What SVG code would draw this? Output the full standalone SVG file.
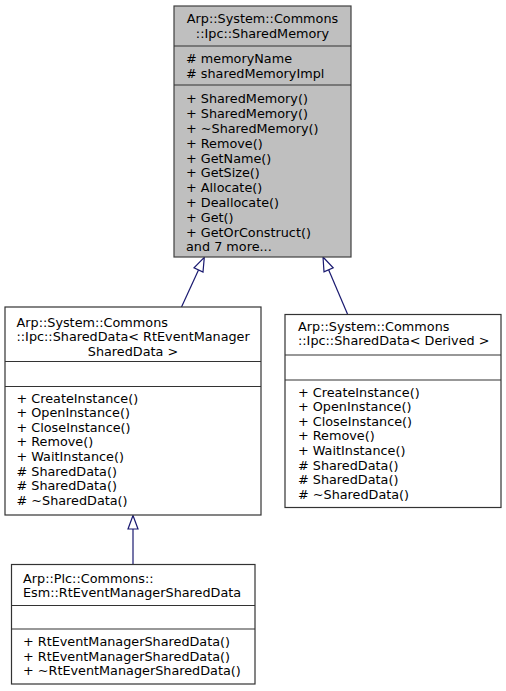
<svg xmlns="http://www.w3.org/2000/svg" width="506" height="691" viewBox="0 0 506 691">
<style>
  text { font-family: "DejaVu Sans", "Noto Sans", sans-serif; font-size: 12.8px; fill: #000; }
  .c { text-anchor: middle; }
  .box { fill: #fff; stroke: #333; stroke-width: 1.2; }
  .root { fill: #bfbfbf; stroke: #404040; stroke-width: 1.2; }
  .div { stroke: #333; stroke-width: 1.2; }
  .edge { stroke: #191970; stroke-width: 1.2; fill: none; }
  .head { fill: #fff; stroke: #191970; stroke-width: 1.2; }
</style>
<g id="edges">
  <path class="edge" d="M181.5,307 L198.5,270"/>
  <polygon class="head" points="204.3,257.3 194,267.9 203,272.1"/>
  <path class="edge" d="M347.7,314.5 L328.6,269.8"/>
  <polygon class="head" points="323,257 333.2,267.8 324,271.8"/>
  <path class="edge" d="M133,564.5 L133,529"/>
  <polygon class="head" points="133,515.5 128,529 138,529"/>
</g>
<g id="node-sharedmemory">
  <rect class="root" x="174" y="6" width="177" height="251"/>
  <line class="div" x1="174" y1="46" x2="351" y2="46"/>
  <line class="div" x1="174" y1="85" x2="351" y2="85"/>
  <text class="c" x="262.5" y="22.5">Arp::System::Commons</text>
  <text class="c" x="262.5" y="37.5">::Ipc::SharedMemory</text>
  <text x="186" y="62.5"># memoryName</text>
  <text x="186" y="77.5"># sharedMemoryImpl</text>
  <text x="186" y="103.3">+ SharedMemory()</text>
  <text x="186" y="118.1">+ SharedMemory()</text>
  <text x="186" y="132.9">+ ~SharedMemory()</text>
  <text x="186" y="147.7">+ Remove()</text>
  <text x="186" y="162.5">+ GetName()</text>
  <text x="186" y="177.3">+ GetSize()</text>
  <text x="186" y="192.1">+ Allocate()</text>
  <text x="186" y="206.9">+ Deallocate()</text>
  <text x="186" y="221.7">+ Get()</text>
  <text x="186" y="236.5">+ GetOrConstruct()</text>
  <text x="186" y="251.3">and 7 more...</text>
</g>
<g id="node-shareddata-rtevent">
  <rect class="box" x="5" y="307" width="256" height="208"/>
  <line class="div" x1="5" y1="361.5" x2="261" y2="361.5"/>
  <line class="div" x1="5" y1="386.5" x2="261" y2="386.5"/>
  <text x="16.5" y="326.5">Arp::System::Commons</text>
  <text x="16.5" y="341.3">::Ipc::SharedData&lt; RtEventManager</text>
  <text class="c" x="133" y="356.1">SharedData &gt;</text>
  <text x="16.5" y="402.5">+ CreateInstance()</text>
  <text x="16.5" y="417.1">+ OpenInstance()</text>
  <text x="16.5" y="431.7">+ CloseInstance()</text>
  <text x="16.5" y="446.3">+ Remove()</text>
  <text x="16.5" y="460.9">+ WaitInstance()</text>
  <text x="16.5" y="475.5"># SharedData()</text>
  <text x="16.5" y="490.1"># SharedData()</text>
  <text x="16.5" y="504.7"># ~SharedData()</text>
</g>
<g id="node-shareddata-derived">
  <rect class="box" x="285" y="314.5" width="216" height="193"/>
  <line class="div" x1="285" y1="355" x2="501" y2="355"/>
  <line class="div" x1="285" y1="380" x2="501" y2="380"/>
  <text x="298" y="330.5">Arp::System::Commons</text>
  <text x="298" y="345.1">::Ipc::SharedData&lt; Derived &gt;</text>
  <text x="298" y="396.5">+ CreateInstance()</text>
  <text x="298" y="411.1">+ OpenInstance()</text>
  <text x="298" y="425.7">+ CloseInstance()</text>
  <text x="298" y="440.3">+ Remove()</text>
  <text x="298" y="454.9">+ WaitInstance()</text>
  <text x="298" y="469.5"># SharedData()</text>
  <text x="298" y="484.1"># SharedData()</text>
  <text x="298" y="498.7"># ~SharedData()</text>
</g>
<g id="node-rteventmanagershareddata">
  <rect class="box" x="11.5" y="564.5" width="243.5" height="119.5"/>
  <line class="div" x1="11.5" y1="605.5" x2="255" y2="605.5"/>
  <line class="div" x1="11.5" y1="629" x2="255" y2="629"/>
  <text x="23" y="582.5">Arp::Plc::Commons::</text>
  <text x="23" y="597.1">Esm::RtEventManagerSharedData</text>
  <text x="23" y="646">+ RtEventManagerSharedData()</text>
  <text x="23" y="660.6">+ RtEventManagerSharedData()</text>
  <text x="23" y="675.2">+ ~RtEventManagerSharedData()</text>
</g>
</svg>
